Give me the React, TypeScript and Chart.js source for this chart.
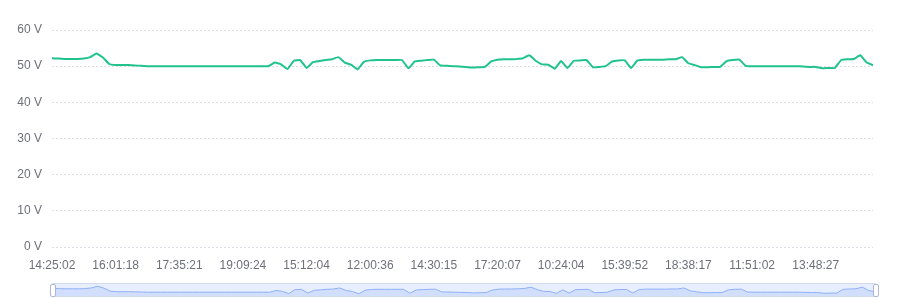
import React, { useEffect, useRef } from "react";
import { Chart, registerables } from "chart.js";

Chart.register(...registerables);

// Shown time labels on the category axis (one every 10 samples)
const tickLabels = [
  "14:25:02", "16:01:18", "17:35:21", "19:09:24", "15:12:04", "12:00:36", "14:30:15",
  "17:20:07", "10:24:04", "15:39:52", "18:38:17", "11:51:02", "13:48:27",
];
const labelEvery = 10;

// Voltage readings (V), 130 samples
const voltage = [
  52.2, 52.1, 52.0, 52.0, 52.0, 52.1, 52.5, 53.5, 52.4, 50.6,
  50.3, 50.3, 50.3, 50.2, 50.1, 50.0, 50.0, 50.0, 50.0, 50.0,
  50.0, 50.0, 50.0, 50.0, 50.0, 50.0, 50.0, 50.0, 50.0, 50.0,
  50.0, 50.0, 50.0, 50.0, 50.0, 51.0, 50.5, 49.2, 51.5, 51.7,
  49.5, 51.1, 51.4, 51.7, 51.9, 52.5, 51.0, 50.4, 49.1, 51.2,
  51.6, 51.7, 51.7, 51.7, 51.7, 51.7, 49.4, 51.3, 51.5, 51.7,
  51.8, 50.2, 50.1, 50.0, 49.9, 49.8, 49.6, 49.7, 49.8, 51.3,
  51.8, 51.9, 51.9, 52.0, 52.2, 53.0, 51.5, 50.5, 50.4, 49.3,
  51.4, 49.5, 51.5, 51.6, 51.7, 49.7, 49.8, 50.0, 51.3, 51.6,
  51.6, 49.5, 51.6, 51.8, 51.8, 51.8, 51.8, 51.9, 51.9, 52.5,
  50.8, 50.3, 49.7, 49.7, 49.8, 49.8, 51.4, 51.7, 51.8, 50.1,
  50.0, 50.0, 50.0, 50.0, 50.0, 50.0, 50.0, 50.0, 49.9, 49.8,
  49.8, 49.4, 49.5, 49.5, 51.7, 51.9, 52.0, 53.0, 51.0, 50.3,
];

const yMin = 0;
const yMax = 60;
const yStep = 10;

const LINE_COLOR = "#20c38b";
const FONT = "'Liberation Sans', Arial, sans-serif";

export default function App() {
  const mainRef = useRef<HTMLCanvasElement>(null);
  const sliderRef = useRef<HTMLCanvasElement>(null);

  useEffect(() => {
    const points = voltage.map((v, i) => ({ x: i, y: v }));
    const main = new Chart(mainRef.current!, {
      type: "line",
      data: {
        datasets: [
          {
            data: points,
            borderColor: LINE_COLOR,
            borderWidth: 2,
            pointRadius: 0,
            tension: 0.1,
            fill: false,
          },
        ],
      },
      options: {
        animation: false,
        responsive: false,
        devicePixelRatio: 1,
        layout: { padding: { top: 30, right: 28, left: 0, bottom: 0 } },
        plugins: { legend: { display: false }, tooltip: { enabled: false } },
        scales: {
          x: {
            type: "linear",
            min: 0,
            max: voltage.length - 1,
            grid: { display: false },
            border: { display: false },
            afterFit: (s: any) => {
              s.height = 51;
            },
            ticks: {
              stepSize: labelEvery,
              includeBounds: false,
              autoSkip: false,
              maxRotation: 0,
              padding: 3,
              color: "#6e7079",
              font: { family: FONT, size: 12 },
              callback: (v: any) => {
                const idx = Number(v) / labelEvery;
                return Number.isInteger(idx) && tickLabels[idx] ? tickLabels[idx] : "";
              },
            },
          },
          y: {
            min: yMin,
            max: yMax,
            border: { display: false, dash: [2, 2] },
            grid: {
              color: "#dcdfe6",
              lineWidth: 1,
              drawTicks: false,
            },
            afterFit: (s: any) => {
              s.width = 52;
            },
            ticks: {
              stepSize: yStep,
              padding: 10,
              color: "#6e7079",
              font: { family: FONT, size: 12 },
              callback: (v: any) => `${v} V`,
            },
          },
        },
      },
    } as any);

    const lo = Math.min(...voltage);
    const hi = Math.max(...voltage);
    const off = (hi - lo) * 0.3;
    const slider = new Chart(sliderRef.current!, {
      type: "line",
      data: {
        datasets: [
          {
            data: points,
            borderColor: "#8fb0f7",
            borderWidth: 1,
            pointRadius: 0,
            tension: 0,
            fill: "start",
            backgroundColor: "rgba(143,176,247,0.25)",
          },
        ],
      },
      options: {
        animation: false,
        responsive: false,
        devicePixelRatio: 1,
        layout: { padding: 0 },
        plugins: { legend: { display: false }, tooltip: { enabled: false } },
        scales: {
          x: { type: "linear", min: 0, max: voltage.length - 1, display: false },
          y: { min: lo - off, max: hi + off, display: false },
        },
      },
    } as any);

    return () => {
      main.destroy();
      slider.destroy();
    };
  }, []);

  const handle: React.CSSProperties = {
    position: "absolute",
    top: 284,
    width: 4,
    height: 11,
    background: "#fff",
    border: "1px solid #acb8d1",
    borderRadius: 2,
  };

  return (
    <div style={{ position: "absolute", left: 0, top: 0, width: 901, height: 298, background: "#fff" }}>
      <canvas
        ref={mainRef}
        width={901}
        height={298}
        style={{ position: "absolute", left: 0, top: 0, width: 901, height: 298 }}
      />
      <div
        style={{
          position: "absolute",
          left: 52,
          top: 283,
          width: 824,
          height: 14,
          boxSizing: "border-box",
          border: "1px solid #d2dbee",
          background: "rgba(135,175,255,0.2)",
        }}
      />
      <canvas
        ref={sliderRef}
        width={822}
        height={12}
        style={{ position: "absolute", left: 53, top: 284, width: 822, height: 12 }}
      />
      <div style={{ ...handle, left: 50 }} />
      <div style={{ ...handle, left: 873 }} />
    </div>
  );
}
